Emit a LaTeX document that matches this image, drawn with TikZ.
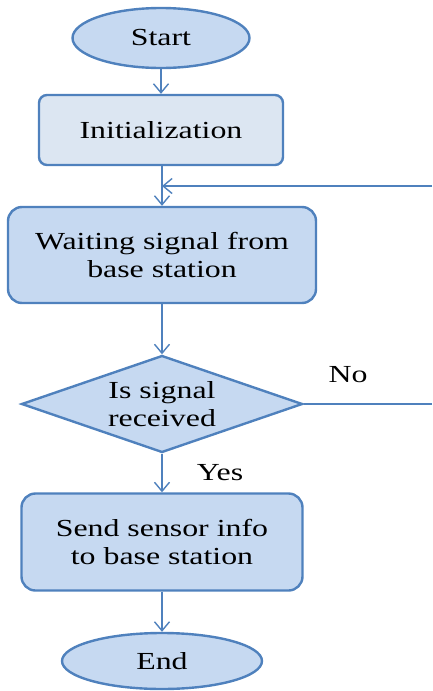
\documentclass[tikz,border=0pt]{standalone}
\usepackage{fontspec}
\setmainfont{Liberation Serif}[FakeStretch=1.3]
\usetikzlibrary{shapes.geometric,arrows.meta}
\definecolor{lineblue}{HTML}{4F81BD}
\definecolor{fillblue}{HTML}{C6D9F1}
\definecolor{paleblue}{HTML}{DCE6F2}
\tikzset{
  base/.style={draw=lineblue, line width=2.4pt, fill=fillblue, text=black,
    font=\fontsize{24.5}{28}\selectfont, align=center, inner sep=0pt},
  terminal/.style={base, ellipse},
  process/.style={base, rectangle, rounded corners=14pt},
  decision/.style={base, diamond, aspect=2.9},
  conn/.style={draw=lineblue, line width=1.4pt,
    -{Straight Barb[length=9pt,width=15pt,line width=1.4pt]}},
  plain/.style={draw=lineblue, line width=1.4pt},
  lbl/.style={font=\fontsize{24.5}{28}\selectfont, text=black}
}
\begin{document}
\begin{tikzpicture}[x=1pt,y=-1pt]
\useasboundingbox (0,0) rectangle (432,691);

% flow nodes
\node[terminal, minimum width=177pt, minimum height=60pt] (start) at (161,38) {Start};
\node[process, fill=paleblue, rounded corners=8pt, minimum width=244pt, minimum height=70pt] (init) at (161,130) {Initialization};
\node[process, minimum width=308pt, minimum height=96pt] (wait) at (162,255) {Waiting signal from\\base station};
\node[decision, minimum width=281pt, minimum height=97pt] (dec) at (162,404) {Is signal\\received};
\node[process, minimum width=281pt, minimum height=97pt] (send) at (162,542) {Send sensor info\\to base station};
\node[terminal, minimum width=200pt, minimum height=56pt] (end) at (162,661) {End};

% main flow
\draw[conn] (start.south) -- (init.north -| start.south);
\draw[conn] (init.south -| wait.north) -- (wait.north);
\draw[conn] (wait) -- (dec);
\draw[conn] (dec) -- (send);
\draw[conn] (send) -- (end);

% loop back on "No"
\coordinate (noR) at (432,404);
\coordinate (backR) at (432,186);
\coordinate (backL) at (162,186);
\draw[plain] (dec.east) -- (noR);
\draw[conn] (backR) -- (backL);

% branch labels
\node[lbl] (nolbl) at (348,375) {No};
\node[lbl] (yeslbl) at (220,473) {Yes};
\end{tikzpicture}
\end{document}
